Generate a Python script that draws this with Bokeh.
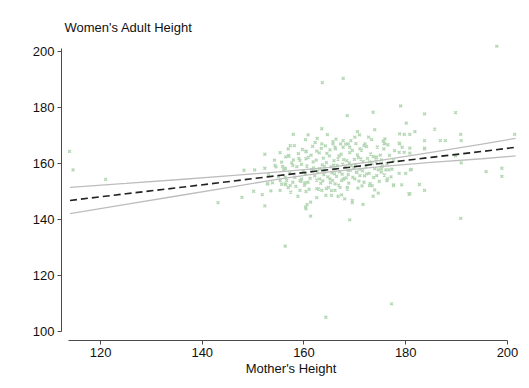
from bokeh.plotting import figure
from bokeh.models import Range1d, FixedTicker
from bokeh.embed import file_html
from bokeh.resources import INLINE

# Scatter data: mother's height (x) and women's adult height (y)
mother_h = [
    113.9, 114.6, 121.0, 143.1, 147.8, 148.2, 150.3, 150.1, 151.8, 152.3, 152.3, 152.3, 152.8, 154.3, 155.3,
    155.6, 156.3, 156.3, 156.9, 157.3, 157.9, 158.1, 157.0, 157.8, 156.3, 156.4, 157.3, 157.9, 158.8, 159.2,
    160.3, 160.6, 160.3, 160.8, 160.2, 159.5, 160.4, 164.3, 177.2, 197.9, 179.0, 189.8, 183.7, 180.1, 185.7,
    181.8, 178.8, 179.7, 180.8, 190.8, 201.4, 175.9, 183.7, 186.8, 187.8, 190.9, 175.7, 178.7, 179.3, 180.8,
    183.7, 175.7, 178.7, 179.7, 180.8, 189.8, 190.9, 175.2, 176.1, 176.7, 178.7, 180.0, 180.9, 195.8, 198.9,
    198.9, 176.3, 177.6, 179.2, 182.7, 183.7, 180.8, 190.8, 169.0, 180.6, 177.6, 171.6, 169.5, 169.5, 168.0,
    167.4, 173.6, 174.6, 173.9, 172.9, 173.4, 170.6, 168.5, 176.4, 171.8, 167.7, 170.0, 181.1, 161.3, 160.4,
    161.3, 160.4, 162.5, 164.3, 165.4, 166.7, 163.5, 166.1, 163.5, 160.4, 162.5, 163.5, 165.7, 166.1, 157.0,
    159.2, 156.3, 173.6, 168.5, 170.5, 173.9, 170.0, 167.7, 173.3, 175.9, 168.7, 169.0, 171.0, 172.0, 178.8,
    183.7, 174.3, 163.1, 165.1, 166.1, 162.5, 164.4, 160.2, 159.2, 156.3, 155.3, 152.9, 168.7, 170.3, 171.0,
    167.1, 172.3, 174.3, 175.2, 163.6, 167.7,
    158.2, 158.6, 159.0, 159.4, 159.8, 158.9, 159.5, 160.1, 158.4, 159.7,
    160.3, 160.6, 160.9, 161.2, 161.5, 161.8, 160.4, 161.0, 161.7, 160.8, 161.4, 161.9,
    162.1, 162.4, 162.7, 163.0, 163.3, 163.6, 163.9, 162.2, 162.9, 163.4, 163.8, 162.5, 163.1, 162.6, 163.7,
    164.1, 164.4, 164.7, 165.0, 165.3, 165.6, 165.9, 164.2, 164.8, 165.1, 165.5, 165.8, 164.5, 165.2, 164.0,
    165.7, 164.6, 165.4,
    166.1, 166.4, 166.7, 167.0, 167.3, 167.6, 167.9, 166.2, 166.8, 167.2, 167.5, 167.8, 166.5, 166.9, 167.4,
    166.3, 167.7, 166.0,
    168.1, 168.4, 168.7, 169.0, 169.3, 169.6, 169.9, 168.2, 168.8, 169.1, 169.5, 169.8, 168.5, 169.2, 168.9,
    168.3,
    170.1, 170.4, 170.7, 171.0, 171.3, 171.6, 171.9, 170.2, 170.8, 171.2, 171.5, 170.5, 171.8, 170.9, 171.4,
    172.2, 172.5, 172.8, 173.1, 173.4, 173.7, 172.3, 173.0, 173.6, 172.7, 173.9, 172.9,
    174.2, 174.6, 175.0, 175.4, 175.8, 174.4, 175.2, 174.8, 175.6, 174.1,
    176.3, 176.8, 177.3, 177.8, 176.5, 177.1, 177.6,
    153.0, 153.8, 154.5, 155.0, 155.6, 156.0, 156.6, 157.2, 157.6, 154.2, 155.3, 156.9, 157.4, 153.5, 156.4,
    155.8, 157.8,
]
daughter_h = [
    164.3, 157.7, 154.3, 146.0, 147.9, 157.6, 157.7, 150.1, 148.9, 144.9, 163.3, 158.3, 152.7, 159.3, 150.4,
    160.5, 130.5, 158.1, 165.2, 166.4, 170.4, 166.4, 162.9, 159.3, 155.1, 152.5, 152.1, 161.3, 148.3, 150.4,
    144.4, 145.3, 168.5, 170.2, 153.0, 154.5, 161.7, 105.1, 109.9, 201.9, 180.6, 178.2, 177.7, 174.4, 172.3,
    171.4, 170.6, 170.4, 170.4, 170.4, 170.4, 168.8, 168.2, 168.2, 168.2, 168.2, 167.3, 167.3, 165.8, 165.5,
    165.5, 165.2, 164.0, 164.0, 163.7, 162.7, 160.2, 158.1, 157.7, 157.7, 156.5, 156.5, 157.7, 157.1, 158.3,
    155.4, 153.9, 152.4, 152.4, 152.5, 150.4, 149.2, 140.4, 139.9, 149.1, 152.1, 145.4, 146.8, 146.0, 147.4,
    148.8, 148.3, 149.4, 150.6, 152.1, 152.1, 151.2, 151.5, 154.5, 153.3, 154.3, 154.5, 157.9, 141.2, 143.8,
    146.2, 150.0, 147.8, 148.6, 148.6, 148.3, 150.4, 150.4, 172.4, 164.4, 164.4, 167.0, 167.0, 165.8, 162.6,
    161.1, 158.3, 178.3, 177.1, 171.4, 172.1, 169.4, 168.2, 168.5, 167.0, 167.0, 165.8, 165.2, 167.0, 167.0,
    165.2, 162.3, 154.5, 154.5, 152.7, 151.0, 151.0, 153.1, 153.9, 152.7, 153.9, 152.7, 157.5, 156.9, 155.7,
    151.5, 156.3, 155.7, 156.9, 188.9, 190.4,
    155.1, 158.9, 161.8, 153.6, 157.2, 163.5, 159.7, 152.2, 151.8, 165.0,
    156.4, 159.1, 162.3, 154.7, 157.9, 160.6, 164.2, 150.8, 166.1, 153.3, 163.0, 158.4,
    155.6, 161.2, 157.3, 163.8, 152.9, 159.5, 156.0, 167.5, 150.9, 165.4, 161.9, 154.1, 158.2, 169.0, 153.8,
    157.6, 160.3, 155.2, 162.7, 158.8, 154.0, 161.0, 166.3, 151.5, 164.9, 156.7, 159.4, 163.6, 153.2, 159.0,
    167.8, 170.3, 150.3,
    158.1, 155.4, 161.6, 157.0, 163.3, 159.8, 154.6, 165.2, 152.3, 167.0, 156.2, 161.4, 159.3, 162.7, 153.9,
    168.7, 165.8, 156.3,
    158.7, 161.0, 156.0, 163.9, 159.2, 155.1, 161.5, 166.9, 153.0, 157.6, 164.7, 158.5, 150.9, 168.2, 160.2,
    154.9,
    159.6, 156.8, 162.1, 158.0, 164.8, 160.7, 155.6, 167.1, 153.7, 161.6, 157.4, 163.1, 166.4, 170.2, 152.0,
    158.9, 161.8, 156.5, 163.4, 159.9, 155.0, 166.0, 152.8, 162.5, 169.4, 158.2, 160.6,
    160.9, 157.7, 163.0, 159.1, 155.9, 165.9, 161.3, 153.6, 168.0, 162.2,
    159.9, 162.9, 158.0, 164.6, 166.7, 155.2, 161.0,
    156.0, 153.1, 158.8, 155.4, 152.6, 157.9, 154.0, 156.6, 160.2, 161.2, 163.9, 151.4, 149.8, 150.2, 162.4,
    159.0, 153.3,
]

# Fitted line and confidence band
fit_x = [114.0, 125.0, 135.0, 145.0, 155.0, 165.0, 175.0, 185.0, 195.0, 201.6]
fit_y = [146.8, 149.2, 151.3, 153.5, 155.7, 157.8, 160.0, 162.2, 164.3, 165.8]
ci_upper = [151.5, 152.9, 154.2, 155.6, 157.0, 158.6, 161.1, 164.0, 166.9, 169.0]
ci_lower = [142.1, 145.4, 148.4, 151.4, 154.4, 157.0, 158.9, 160.4, 161.7, 162.7]

x_ticks = [120, 140, 160, 180, 200]
y_ticks = [100, 120, 140, 160, 180, 200]

FONT = "Liberation Sans"
AXIS_COLOR = "#4a4a4a"

p = figure(width=521, height=380, output_backend="svg", toolbar_location=None,
           x_range=Range1d(112.33, 202.56), y_range=Range1d(96.79, 202.5),
           min_border_left=61, min_border_right=1, min_border_top=44, min_border_bottom=40,
           title="Women's Adult Height")
p.outline_line_color = None
p.grid.visible = False
p.background_fill_color = "white"
p.border_fill_color = "white"

p.title.align = "left"
p.title.text_font = FONT
p.title.text_font_size = "13px"
p.title.text_font_style = "normal"
p.title.text_color = "#111111"
p.title.offset = 3
p.title.standoff = 20

p.scatter(mother_h, daughter_h, marker="x", size=4, line_width=1.4,
          line_color="#b6d8b6")

p.line(fit_x, ci_upper, line_color="#bdbdbd", line_width=1.3)
p.line(fit_x, ci_lower, line_color="#bdbdbd", line_width=1.3)
p.line(fit_x, fit_y, line_color="#222222", line_width=1.6, line_dash="7 4")

for ax in (p.xaxis[0], p.yaxis[0]):
    ax.axis_line_color = AXIS_COLOR
    ax.major_tick_line_color = AXIS_COLOR
    ax.minor_tick_line_color = None
    ax.major_tick_out = 4
    ax.major_tick_in = 0
    ax.major_label_text_font = FONT
    ax.major_label_text_font_size = "13px"
    ax.major_label_text_color = "#111111"
    ax.major_label_standoff = 3

p.xaxis[0].ticker = FixedTicker(ticks=x_ticks)
p.yaxis[0].ticker = FixedTicker(ticks=y_ticks)
p.xaxis[0].bounds = (113.7, 200)
p.yaxis[0].bounds = (100, 201.2)
p.xaxis[0].axis_label = "Mother's Height"
p.xaxis[0].axis_label_text_font = FONT
p.xaxis[0].axis_label_text_font_size = "13px"
p.xaxis[0].axis_label_text_font_style = "normal"
p.xaxis[0].axis_label_text_color = "#111111"
p.xaxis[0].axis_label_standoff = 1

open("out.html", "w").write(file_html(p, INLINE))
